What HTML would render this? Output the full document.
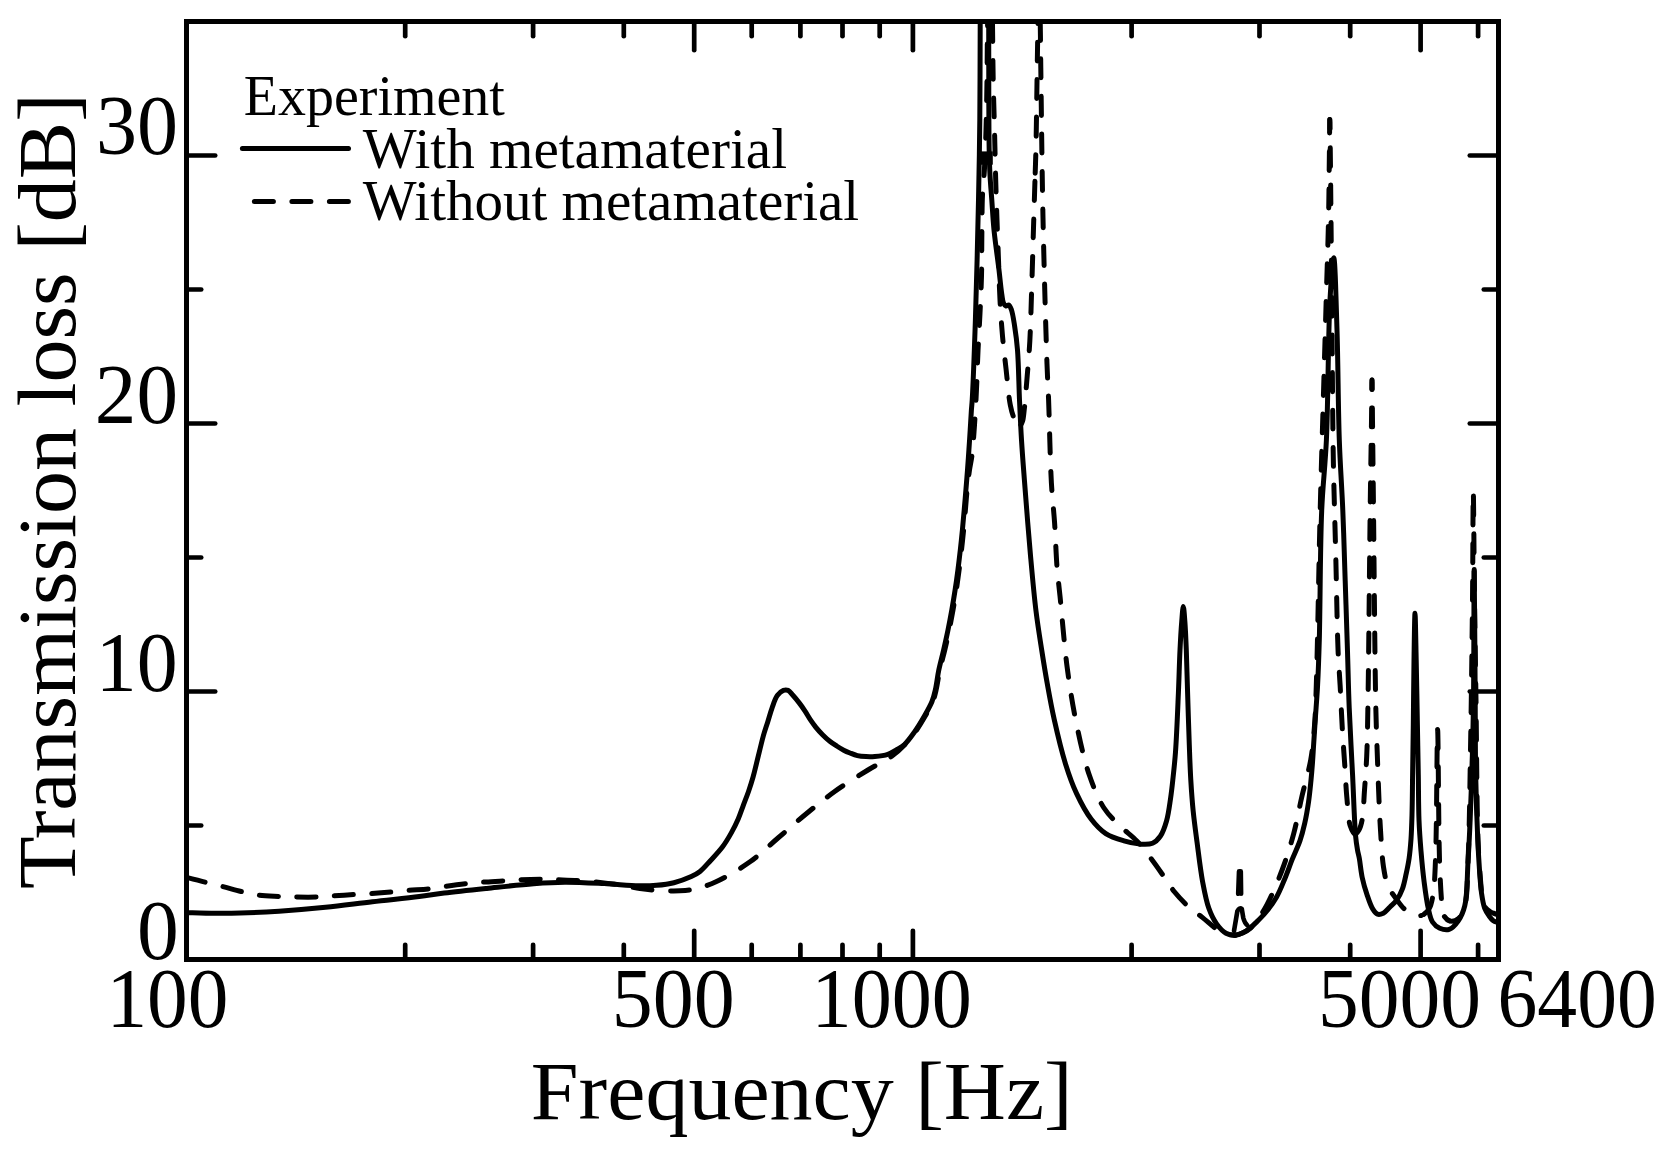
<!DOCTYPE html>
<html><head><meta charset="utf-8"><title>Transmission loss</title>
<style>
html,body{margin:0;padding:0;background:#fff;}
body{width:1665px;height:1151px;overflow:hidden;}
svg{display:block;}
text{font-family:'Liberation Serif', 'DejaVu Serif', serif;fill:#000;}
</style></head><body>
<svg width="1665" height="1151" viewBox="0 0 1665 1151">
<defs><clipPath id="pa"><rect x="189" y="24" width="1307" height="933"/></clipPath></defs>
<rect width="1665" height="1151" fill="#fff"/>
<g clip-path="url(#pa)" fill="none" stroke="#000" stroke-width="5" stroke-linejoin="round">
<path d="M180.00,912.40 C182.33,912.47 183.89,912.52 187.00,912.60 C193.22,912.77 205.93,913.22 215.00,913.30 C223.57,913.37 230.75,913.36 240.00,913.10 C251.56,912.77 265.44,912.10 279.00,911.20 C293.83,910.22 309.98,908.88 325.50,907.30 C341.11,905.71 356.77,903.50 372.40,901.70 C388.00,899.90 406.03,898.13 419.20,896.50 C428.84,895.31 434.75,894.26 444.20,893.10 C456.51,891.58 472.25,889.93 486.80,888.40 C502.05,886.79 519.64,884.74 533.70,883.70 C545.14,882.85 553.90,882.27 564.90,882.20 C577.24,882.12 591.50,882.97 604.20,883.60 C616.16,884.19 629.39,885.63 639.00,885.80 C645.79,885.92 650.61,885.81 656.40,885.30 C662.24,884.78 668.14,884.12 673.90,882.70 C679.78,881.25 686.58,878.79 691.30,876.60 C694.79,874.98 697.13,873.76 700.00,871.50 C703.50,868.74 706.84,864.57 710.40,860.70 C714.35,856.40 719.04,851.58 722.60,846.80 C725.95,842.30 728.67,837.60 731.30,832.90 C733.86,828.33 736.17,823.69 738.20,819.00 C740.19,814.42 741.67,809.73 743.40,805.10 C745.13,800.47 746.99,795.85 748.60,791.20 C750.19,786.59 751.68,781.95 753.00,777.30 C754.31,772.69 755.35,768.04 756.50,763.40 C757.65,758.77 758.75,754.13 759.90,749.50 C761.05,744.86 762.09,740.21 763.40,735.60 C764.72,730.95 766.35,726.34 767.80,721.70 C769.25,717.07 770.47,712.24 772.10,707.80 C773.66,703.56 775.07,698.63 777.30,695.60 C779.03,693.24 781.36,691.15 783.40,690.40 C784.96,689.82 786.64,689.79 788.10,690.40 C789.86,691.14 791.23,693.45 792.90,695.30 C794.90,697.52 797.21,700.32 799.20,702.90 C801.14,705.42 802.90,707.90 804.70,710.60 C806.60,713.45 808.38,716.75 810.30,719.60 C812.12,722.30 813.86,724.80 815.90,727.30 C818.02,729.90 820.43,732.54 822.80,734.90 C825.07,737.16 827.41,739.31 829.80,741.20 C832.05,742.99 834.37,744.49 836.70,746.00 C839.00,747.49 841.39,749.00 843.70,750.20 C845.82,751.30 847.80,752.13 850.00,753.00 C852.35,753.93 854.81,755.00 857.40,755.60 C860.13,756.23 863.11,756.45 866.00,756.60 C868.91,756.75 871.59,756.79 874.80,756.50 C878.72,756.15 883.93,755.60 887.80,754.30 C891.23,753.15 894.13,751.20 897.00,749.50 C899.67,747.92 902.00,746.79 904.50,744.50 C907.83,741.44 911.33,736.47 914.50,732.00 C917.85,727.27 921.06,721.93 924.00,716.80 C926.89,711.76 930.07,706.33 932.00,701.50 C933.61,697.48 934.29,694.39 935.30,690.00 C936.62,684.28 937.42,676.65 938.80,670.00 C940.19,663.31 942.07,656.67 943.60,650.00 C945.13,643.34 946.63,636.68 948.00,630.00 C949.36,623.34 950.62,616.67 951.80,610.00 C952.98,603.34 954.08,596.67 955.10,590.00 C956.12,583.34 957.03,576.67 957.90,570.00 C958.77,563.34 959.55,556.67 960.30,550.00 C961.05,543.34 961.75,536.67 962.40,530.00 C963.05,523.34 963.62,516.67 964.20,510.00 C964.78,503.33 965.35,496.67 965.90,490.00 C966.45,483.33 967.00,476.67 967.50,470.00 C968.00,463.33 968.45,456.67 968.90,450.00 C969.35,443.33 969.78,436.67 970.20,430.00 C970.62,423.33 971.01,415.52 971.40,410.00 C971.67,406.09 971.90,404.93 972.20,400.00 C973.04,386.02 974.43,348.98 975.40,319.50 C976.58,283.59 977.74,235.85 978.50,200.00 C979.12,170.67 979.52,147.88 979.80,120.00 C980.11,89.46 980.01,52.77 980.20,24.00 C980.36,0.51 979.97,-19.99 980.80,-40.00 C981.54,-57.71 983.27,-90.00 984.50,-90.00 C985.73,-90.00 987.48,-57.71 988.20,-40.00 C989.02,-19.99 988.60,1.75 988.70,24.00 C988.81,48.25 988.70,77.18 988.80,100.00 C988.89,118.69 988.92,137.17 989.20,151.00 C989.40,160.49 989.57,166.92 990.00,175.00 C990.43,183.25 991.17,191.29 991.80,200.00 C992.49,209.54 992.94,219.30 994.00,230.00 C995.23,242.39 997.64,258.64 999.00,270.00 C1000.00,278.42 1000.61,285.94 1001.50,292.00 C1002.14,296.31 1002.37,300.57 1003.50,303.00 C1004.17,304.43 1005.03,305.73 1006.00,306.00 C1006.86,306.24 1008.07,304.67 1008.90,305.00 C1010.02,305.45 1010.73,307.79 1011.50,310.00 C1012.81,313.76 1013.67,320.11 1014.60,326.00 C1015.73,333.17 1016.74,340.53 1017.50,350.00 C1018.59,363.62 1018.79,384.26 1019.50,400.00 C1020.13,414.08 1020.68,426.67 1021.50,440.00 C1022.32,453.34 1023.22,464.57 1024.40,480.00 C1026.03,501.21 1028.41,532.27 1030.50,555.50 C1032.29,575.43 1033.93,594.15 1036.00,611.00 C1037.74,625.17 1039.76,637.52 1041.70,650.00 C1043.50,661.55 1045.17,671.99 1047.20,683.30 C1049.32,695.10 1051.37,706.76 1054.20,719.40 C1057.37,733.57 1061.46,750.96 1065.60,764.20 C1069.00,775.07 1072.17,784.15 1076.50,793.40 C1080.71,802.39 1085.70,811.95 1091.10,819.00 C1095.63,824.91 1100.22,829.93 1105.80,833.60 C1111.23,837.17 1118.05,839.13 1124.00,840.90 C1129.43,842.52 1134.97,843.76 1140.00,844.10 C1144.40,844.39 1149.02,844.76 1152.50,843.30 C1155.68,841.96 1158.12,839.41 1160.30,836.30 C1163.07,832.35 1164.95,826.43 1166.60,820.70 C1168.50,814.11 1169.44,805.84 1170.50,798.80 C1171.47,792.31 1172.05,786.89 1172.80,780.00 C1173.72,771.60 1174.70,763.06 1175.50,752.00 C1176.67,735.97 1177.62,711.12 1178.40,693.00 C1179.07,677.54 1179.37,662.80 1180.00,650.00 C1180.51,639.67 1181.05,629.96 1181.70,622.00 C1182.19,616.07 1182.77,606.50 1183.30,606.50 C1183.83,606.50 1184.45,616.07 1184.90,622.00 C1185.51,629.96 1185.89,639.67 1186.30,650.00 C1186.81,662.80 1187.13,677.99 1187.60,693.00 C1188.12,709.51 1188.71,729.38 1189.30,745.00 C1189.78,757.82 1190.12,768.66 1190.80,780.00 C1191.44,790.73 1192.15,800.88 1193.20,811.30 C1194.25,821.75 1195.64,831.59 1197.10,842.60 C1198.73,854.92 1200.41,869.97 1202.60,881.70 C1204.42,891.43 1206.08,900.65 1208.80,908.20 C1210.98,914.26 1213.47,919.54 1216.60,923.90 C1219.33,927.70 1222.61,931.44 1226.00,933.30 C1228.82,934.85 1232.10,935.42 1235.00,935.30 C1237.76,935.18 1240.50,934.00 1243.00,932.80 C1245.50,931.60 1247.82,929.82 1250.00,928.10 C1252.14,926.41 1253.81,924.75 1256.00,922.60 C1258.87,919.78 1262.43,916.36 1265.60,912.50 C1269.31,907.98 1273.46,902.38 1276.60,896.90 C1279.72,891.45 1281.89,885.71 1284.40,879.70 C1287.10,873.25 1289.56,866.02 1292.20,859.40 C1294.76,853.00 1297.88,846.79 1300.00,840.60 C1301.99,834.80 1303.32,829.51 1304.70,823.40 C1306.24,816.60 1307.56,808.75 1308.60,801.60 C1309.60,794.73 1310.24,787.94 1310.90,781.30 C1311.53,774.92 1312.04,768.66 1312.50,762.50 C1312.94,756.56 1313.19,751.41 1313.60,745.00 C1314.10,737.19 1314.68,728.24 1315.30,719.00 C1316.00,708.45 1316.96,697.21 1317.60,685.10 C1318.34,671.14 1318.77,658.91 1319.30,640.00 C1320.20,607.95 1320.14,547.04 1321.70,510.40 C1322.85,483.36 1325.13,467.48 1326.40,440.00 C1328.19,401.29 1328.11,333.06 1330.00,300.00 C1331.04,281.82 1332.68,257.78 1333.75,257.80 C1335.14,257.83 1336.12,303.40 1337.00,330.00 C1338.08,362.82 1338.15,407.41 1339.30,440.00 C1340.22,466.08 1341.82,486.93 1342.80,510.40 C1343.78,533.86 1344.42,557.32 1345.20,580.80 C1345.98,604.29 1346.80,629.11 1347.50,651.30 C1348.12,671.15 1348.41,688.05 1349.20,707.70 C1350.07,729.24 1351.51,753.46 1352.60,775.40 C1353.64,796.16 1354.39,822.90 1355.60,836.00 C1356.18,842.32 1356.79,845.95 1357.50,850.00 C1358.05,853.14 1358.68,854.95 1359.30,858.30 C1360.23,863.35 1360.88,871.24 1362.20,877.40 C1363.47,883.32 1365.17,889.18 1367.00,894.60 C1368.70,899.63 1370.53,905.43 1372.70,908.90 C1374.18,911.27 1375.62,913.55 1377.50,914.20 C1379.20,914.79 1381.43,914.12 1383.30,913.20 C1385.63,912.05 1387.80,909.13 1390.00,907.00 C1392.23,904.83 1394.65,903.01 1396.60,900.30 C1398.87,897.14 1400.84,893.08 1402.40,888.90 C1404.13,884.26 1405.08,878.72 1406.20,873.60 C1407.31,868.52 1408.32,863.71 1409.10,858.30 C1409.97,852.28 1410.52,845.87 1411.00,839.10 C1411.53,831.53 1411.74,824.05 1412.00,815.00 C1412.33,803.35 1412.40,789.08 1412.60,775.00 C1412.83,759.26 1413.08,742.76 1413.30,725.00 C1413.55,704.75 1413.68,679.88 1414.00,660.00 C1414.27,643.15 1414.63,613.30 1415.00,613.30 C1415.37,613.30 1415.83,643.15 1416.20,660.00 C1416.64,679.88 1417.03,704.75 1417.40,725.00 C1417.72,742.76 1418.03,758.77 1418.30,775.00 C1418.56,790.39 1418.46,806.40 1419.00,820.00 C1419.45,831.30 1420.14,840.63 1421.00,851.00 C1421.87,861.47 1422.91,872.52 1424.20,882.50 C1425.38,891.60 1426.62,901.29 1428.30,908.50 C1429.53,913.78 1430.25,918.57 1432.50,922.00 C1434.36,924.83 1437.00,927.07 1439.80,928.30 C1442.57,929.52 1446.29,930.35 1449.20,929.40 C1452.53,928.31 1455.80,924.46 1458.30,920.90 C1461.18,916.80 1463.21,912.24 1464.80,905.70 C1467.38,895.08 1467.10,876.71 1468.00,862.20 C1468.90,847.71 1469.53,834.67 1470.20,818.70 C1471.02,799.16 1471.84,774.16 1472.40,753.50 C1472.91,734.79 1473.22,721.74 1473.50,700.00 C1473.94,666.06 1473.92,569.60 1474.20,569.60 C1474.48,569.60 1474.93,662.48 1475.20,700.00 C1475.40,728.49 1475.23,751.03 1475.70,775.20 C1476.14,797.71 1477.02,822.91 1477.80,840.40 C1478.33,852.19 1478.83,860.76 1479.50,870.00 C1480.09,878.15 1480.50,886.18 1481.50,893.00 C1482.31,898.56 1483.01,903.81 1484.60,908.00 C1485.87,911.35 1487.89,914.26 1489.50,916.50 C1490.68,918.15 1491.68,919.52 1493.00,920.50 C1494.20,921.39 1495.40,921.88 1497.00,922.30 C1499.17,922.87 1502.33,922.77 1505.00,923.00"/>
<path d="M180.00,876.00 C182.33,876.50 184.13,876.82 187.00,877.50 C191.67,878.60 199.29,880.68 205.30,882.20 C211.12,883.67 216.65,884.99 222.50,886.50 C228.61,888.08 235.08,890.02 241.20,891.50 C247.04,892.91 252.40,894.37 258.40,895.20 C264.85,896.10 272.41,896.20 278.70,896.50 C284.16,896.76 288.34,896.91 294.00,897.00 C301.04,897.11 310.66,897.25 317.70,897.00 C323.36,896.80 327.52,896.27 333.00,895.90 C339.36,895.47 347.04,895.00 353.60,894.60 C359.59,894.24 364.84,894.01 370.80,893.60 C377.27,893.16 384.56,892.58 391.00,892.00 C396.91,891.47 402.06,890.80 408.00,890.30 C414.53,889.75 422.17,889.60 428.60,888.90 C434.31,888.28 438.92,887.30 444.70,886.50 C451.41,885.57 459.85,884.45 466.50,883.70 C472.10,883.07 476.38,882.64 482.00,882.20 C488.69,881.68 497.30,881.33 504.00,880.90 C509.65,880.53 513.96,880.06 519.60,879.80 C526.28,879.49 534.83,879.27 541.50,879.30 C547.11,879.33 551.48,879.60 557.00,879.80 C563.33,880.03 570.43,880.17 577.40,880.60 C584.75,881.05 592.70,881.74 600.00,882.50 C606.88,883.22 613.35,884.00 620.00,885.00 C626.68,886.00 633.32,887.58 640.00,888.50 C646.65,889.41 653.33,890.12 660.00,890.50 C666.66,890.88 673.82,891.12 680.00,890.80 C685.37,890.52 689.65,890.22 695.00,889.00 C701.49,887.52 708.36,885.32 716.00,881.80 C726.19,877.11 739.51,869.26 750.00,861.80 C760.12,854.60 768.67,845.96 778.00,838.00 C787.34,830.03 796.58,821.73 806.00,814.00 C815.25,806.41 824.04,799.11 834.00,792.00 C844.62,784.42 857.58,776.40 868.00,770.00 C876.63,764.70 885.41,760.77 892.00,756.00 C897.21,752.23 901.08,748.58 905.00,744.50 C908.78,740.56 911.98,736.47 915.20,732.00 C918.60,727.28 921.84,721.94 924.80,716.80 C927.70,711.77 930.87,706.33 932.80,701.50 C934.41,697.48 935.07,694.39 936.10,690.00 C937.45,684.28 938.36,676.64 939.80,670.00 C941.25,663.31 943.23,656.68 944.80,650.00 C946.36,643.34 947.83,636.68 949.20,630.00 C950.56,623.34 951.82,616.67 953.00,610.00 C954.18,603.34 955.28,596.67 956.30,590.00 C957.32,583.34 958.23,576.67 959.10,570.00 C959.97,563.34 960.75,556.67 961.50,550.00 C962.25,543.34 962.95,536.67 963.60,530.00 C964.25,523.34 964.82,516.67 965.40,510.00 C965.98,503.33 966.42,496.66 967.10,490.00 C967.78,483.33 968.61,476.18 969.50,470.00 C970.27,464.63 971.27,460.88 972.00,455.00 C973.03,446.73 973.77,435.46 974.50,425.00 C975.29,413.55 975.92,401.16 976.50,389.00 C977.09,376.51 977.42,363.66 978.00,351.00 C978.58,338.33 979.41,325.58 980.00,313.00 C980.58,300.59 981.20,288.25 981.50,276.00 C981.80,263.92 981.65,252.67 981.80,240.00 C981.97,225.84 981.91,207.80 982.50,195.00 C982.94,185.44 983.86,179.31 984.40,170.00 C985.08,158.23 985.58,144.08 986.00,130.00 C986.47,114.26 986.75,96.67 987.00,80.00 C987.25,63.33 987.15,48.06 987.50,30.00 C987.91,8.62 988.26,-39.94 989.50,-40.00" stroke-dasharray="19 18.5" stroke-linecap="round" stroke-dashoffset="30.70"/>
<path d="M989.50,-40.00 C990.17,-40.03 991.46,-27.98 992.00,-20.00 C992.80,-8.21 992.31,8.45 992.50,24.00 C992.71,41.54 992.85,61.86 993.20,80.00 C993.53,97.14 994.08,113.33 994.50,130.00 C994.92,146.67 995.26,164.26 995.70,180.00 C996.10,194.08 996.53,206.67 997.00,220.00 C997.47,233.33 998.00,246.67 998.50,260.00 C999.00,273.33 999.31,287.02 1000.00,300.00 C1000.66,312.32 1001.47,324.32 1002.50,336.00 C1003.48,347.12 1004.74,357.36 1006.00,368.50 C1007.33,380.32 1008.49,395.96 1010.30,405.00 C1011.40,410.48 1012.47,414.77 1014.00,418.00 C1015.03,420.17 1016.26,421.79 1017.50,423.00 C1018.46,423.93 1019.68,425.21 1020.50,425.00" stroke-dasharray="19 18.5" stroke-linecap="round" stroke-dashoffset="12.00"/>
<path d="M1035.10,176.00 C1034.66,190.36 1034.05,210.05 1033.50,228.00 C1032.91,247.28 1032.34,268.57 1031.70,288.00 C1031.10,306.35 1030.70,325.31 1029.80,341.50 C1029.05,354.98 1027.97,366.67 1027.00,378.50 C1026.10,389.43 1025.11,402.21 1024.20,410.00 C1023.66,414.62 1023.48,418.30 1022.60,421.00 C1022.04,422.72 1021.42,424.77 1020.50,425.00" stroke-dasharray="19 18.5" stroke-linecap="round" stroke-dashoffset="32.00"/>
<path d="M1039.00,-30.00 C1038.50,-30.00 1037.99,21.85 1037.50,50.00 C1036.95,81.48 1036.43,127.49 1035.90,150.00 C1035.63,161.48 1035.41,165.85 1035.10,176.00" stroke-dasharray="19 18.5" stroke-linecap="round" stroke-dashoffset="3.00"/>
<path d="M1039.00,-30.00 C1039.40,-30.00 1039.90,3.50 1040.20,20.00 C1040.49,36.16 1040.52,47.56 1040.80,68.00 C1041.29,104.13 1041.96,168.34 1043.00,218.00 C1044.03,267.00 1045.84,331.71 1047.00,364.00 C1047.58,380.04 1048.03,385.53 1048.60,400.00 C1049.46,421.97 1050.11,460.34 1051.40,483.00 C1052.30,498.75 1053.68,509.37 1054.60,523.00 C1055.56,537.24 1055.97,553.60 1057.00,566.70 C1057.85,577.45 1058.78,584.04 1060.00,596.00 C1061.92,614.91 1064.39,646.61 1067.40,669.20 C1070.02,688.83 1072.78,706.14 1076.50,724.00 C1080.12,741.38 1084.13,760.04 1089.30,775.00 C1093.58,787.40 1098.15,798.97 1104.00,808.00 C1108.82,815.44 1114.77,820.69 1120.40,826.30 C1125.72,831.60 1131.61,835.43 1136.80,840.90 C1142.35,846.75 1147.73,854.18 1152.50,860.50 C1156.78,866.17 1160.45,871.64 1164.20,877.00 C1167.73,882.06 1170.52,887.00 1174.40,891.80 C1178.55,896.92 1183.62,902.29 1188.50,906.70 C1193.05,910.81 1197.80,913.82 1202.60,917.60 C1207.69,921.60 1213.06,927.17 1218.20,930.10 C1222.40,932.49 1227.58,934.05 1230.70,934.80 C1232.47,935.23 1233.36,935.45 1235.00,935.30" stroke-dasharray="19 18.5" stroke-linecap="round" stroke-dashoffset="23.50"/>
<path d="M1329.80,119.50 C1329.65,119.50 1329.56,139.19 1329.40,152.00 C1329.16,170.53 1329.00,196.41 1328.50,220.00 C1327.96,245.59 1327.01,271.85 1326.20,300.00 C1325.29,331.48 1324.28,365.87 1323.30,400.00 C1322.28,435.79 1321.23,469.09 1320.20,510.00 C1318.90,561.59 1317.56,647.02 1316.30,685.00 C1315.69,703.35 1315.50,712.88 1314.50,725.80 C1313.59,737.56 1312.79,748.02 1310.80,759.40 C1308.70,771.40 1304.83,783.70 1302.00,796.00 C1299.13,808.44 1297.01,821.28 1293.70,833.60 C1290.43,845.78 1286.73,857.71 1282.30,869.50 C1277.84,881.38 1271.74,895.60 1267.00,904.60 C1263.84,910.60 1261.06,914.79 1258.00,919.00 C1255.38,922.60 1252.78,926.11 1250.00,928.50 C1247.74,930.45 1245.49,931.67 1243.00,932.80 C1240.49,933.94 1237.28,935.09 1235.00,935.30" stroke-dasharray="19 18.5" stroke-linecap="round" stroke-dashoffset="5.50"/>
<path d="M1329.80,119.50 C1329.95,119.50 1330.14,139.19 1330.30,152.00 C1330.54,170.53 1330.76,196.41 1331.00,220.00 C1331.26,245.58 1331.55,271.85 1331.80,300.00 C1332.08,331.48 1332.30,370.44 1332.60,400.00 C1332.84,423.56 1332.96,440.27 1333.40,463.50 C1333.94,491.75 1335.02,526.10 1335.80,557.40 C1336.58,588.70 1337.12,627.85 1338.10,651.30 C1338.69,665.36 1339.44,672.94 1340.10,685.00 C1340.87,698.98 1341.57,716.30 1342.40,730.30 C1343.12,742.42 1343.95,752.91 1344.70,764.20 C1345.45,775.47 1345.90,787.28 1346.90,798.00 C1347.81,807.79 1348.15,819.64 1350.30,826.00 C1351.53,829.65 1353.35,833.79 1355.00,834.00" stroke-dasharray="19 18.5" stroke-linecap="round" stroke-dashoffset="9.50"/>
<path d="M1372.00,380.00 C1371.83,380.00 1371.72,405.11 1371.50,421.00 C1371.20,443.05 1370.74,467.45 1370.30,500.00 C1369.59,552.66 1368.71,661.48 1367.90,706.80 C1367.50,729.00 1367.37,741.44 1366.70,756.40 C1366.15,768.78 1365.28,779.41 1364.50,790.30 C1363.77,800.43 1363.58,812.36 1362.20,819.60 C1361.36,824.00 1360.52,827.47 1359.00,830.00 C1357.90,831.82 1356.29,834.16 1355.00,834.00" stroke-dasharray="19 18.5" stroke-linecap="round" stroke-dashoffset="9.50"/>
<path d="M1372.00,380.00 C1372.17,380.00 1372.31,405.11 1372.50,421.00 C1372.76,443.05 1373.03,467.45 1373.40,500.00 C1374.01,552.66 1374.79,660.41 1375.80,706.80 C1376.31,730.33 1376.93,743.53 1377.50,760.00 C1378.00,774.28 1378.46,787.63 1379.00,800.00 C1379.47,810.72 1379.81,819.48 1380.50,830.00 C1381.27,841.69 1381.88,856.75 1383.50,867.00 C1384.67,874.43 1385.67,880.50 1388.00,886.00 C1390.03,890.80 1393.13,894.55 1396.00,898.50 C1398.81,902.37 1401.69,906.86 1405.00,909.50 C1407.78,911.72 1411.09,912.99 1414.00,914.00 C1416.50,914.87 1418.97,916.09 1421.30,915.50" stroke-dasharray="19 18.5" stroke-linecap="round" stroke-dashoffset="9.50"/>
<path d="M1437.60,729.60 C1436.93,729.60 1436.80,830.34 1435.50,860.00 C1434.83,875.38 1434.59,886.02 1433.00,895.00 C1431.98,900.78 1431.29,905.46 1429.00,909.00 C1427.10,911.95 1424.01,914.81 1421.30,915.50" stroke-dasharray="19 18.5" stroke-linecap="round" stroke-dashoffset="19.00"/>
<path d="M1437.60,729.60 C1438.27,729.60 1438.50,829.02 1439.50,860.00 C1440.05,877.17 1440.72,890.10 1441.50,900.00 C1441.96,905.87 1441.31,910.36 1443.00,914.00 C1444.39,917.00 1447.00,920.15 1449.60,920.90" stroke-dasharray="19 18.5" stroke-linecap="round" stroke-dashoffset="0.00"/>
<path d="M1473.30,492.00 C1472.97,492.00 1472.90,561.05 1472.50,600.00 C1472.02,645.90 1471.33,703.62 1470.50,750.00 C1469.79,790.11 1469.37,833.51 1468.00,862.20 C1467.14,880.09 1467.57,895.63 1464.80,905.70 C1463.20,911.51 1461.32,916.27 1458.30,918.70 C1455.93,920.61 1452.12,921.63 1449.60,920.90" stroke-dasharray="19 18.5" stroke-linecap="round" stroke-dashoffset="23.25"/>
<path d="M1473.30,492.00 C1473.63,492.00 1474.04,564.69 1474.50,600.00 C1474.94,633.98 1475.47,663.87 1476.00,700.00 C1476.63,742.75 1476.75,807.50 1478.00,840.00 C1478.67,857.39 1479.52,868.96 1480.50,880.00 C1481.19,887.82 1481.53,894.84 1482.80,900.00 C1483.64,903.43 1484.54,906.31 1486.00,908.30 C1487.11,909.81 1488.72,910.68 1490.00,911.50 C1491.04,912.16 1491.91,912.55 1493.00,913.00 C1494.22,913.50 1495.41,914.03 1497.00,914.30 C1499.19,914.67 1502.33,914.43 1505.00,914.50" stroke-dasharray="19 18.5" stroke-linecap="round" stroke-dashoffset="33.25"/>
</g>
<g stroke="#000" stroke-width="4.6" stroke-linecap="round" stroke-linejoin="round" fill="none">
<rect x="978" y="151.4" width="14.8" height="13.3" fill="#000" stroke="none"/>
<path d="M1234,931 L1237.4,911 Q1239.6,907 1241.8,909 L1243.3,918 Q1244.8,923.5 1247.5,925.5"/>
<path d="M1238.4,893.5 L1239.2,871.5 M1240.6,871.5 L1240.9,893.5" stroke-width="5"/>
</g>
<g stroke="#000" stroke-width="4.7" stroke-linecap="round" fill="none">
<line x1="694.2" y1="959.5" x2="694.2" y2="930.8"/>
<line x1="694.2" y1="21.5" x2="694.2" y2="50.2"/>
<line x1="912.9" y1="959.5" x2="912.9" y2="930.8"/>
<line x1="912.9" y1="21.5" x2="912.9" y2="50.2"/>
<line x1="1420.6" y1="959.5" x2="1420.6" y2="930.8"/>
<line x1="1420.6" y1="21.5" x2="1420.6" y2="50.2"/>
<line x1="405.2" y1="959.5" x2="405.2" y2="944.8"/>
<line x1="405.2" y1="21.5" x2="405.2" y2="36.2"/>
<line x1="533.1" y1="959.5" x2="533.1" y2="944.8"/>
<line x1="533.1" y1="21.5" x2="533.1" y2="36.2"/>
<line x1="623.8" y1="959.5" x2="623.8" y2="944.8"/>
<line x1="623.8" y1="21.5" x2="623.8" y2="36.2"/>
<line x1="751.7" y1="959.5" x2="751.7" y2="944.8"/>
<line x1="751.7" y1="21.5" x2="751.7" y2="36.2"/>
<line x1="800.4" y1="959.5" x2="800.4" y2="944.8"/>
<line x1="800.4" y1="21.5" x2="800.4" y2="36.2"/>
<line x1="842.5" y1="959.5" x2="842.5" y2="944.8"/>
<line x1="842.5" y1="21.5" x2="842.5" y2="36.2"/>
<line x1="879.7" y1="959.5" x2="879.7" y2="944.8"/>
<line x1="879.7" y1="21.5" x2="879.7" y2="36.2"/>
<line x1="1131.6" y1="959.5" x2="1131.6" y2="944.8"/>
<line x1="1131.6" y1="21.5" x2="1131.6" y2="36.2"/>
<line x1="1259.5" y1="959.5" x2="1259.5" y2="944.8"/>
<line x1="1259.5" y1="21.5" x2="1259.5" y2="36.2"/>
<line x1="1350.2" y1="959.5" x2="1350.2" y2="944.8"/>
<line x1="1350.2" y1="21.5" x2="1350.2" y2="36.2"/>
<line x1="1478.1" y1="959.5" x2="1478.1" y2="944.8"/>
<line x1="1478.1" y1="21.5" x2="1478.1" y2="36.2"/>
<line x1="186.5" y1="825.5" x2="201.2" y2="825.5"/>
<line x1="1498.5" y1="825.5" x2="1483.8" y2="825.5"/>
<line x1="186.5" y1="691.5" x2="215.2" y2="691.5"/>
<line x1="1498.5" y1="691.5" x2="1469.8" y2="691.5"/>
<line x1="186.5" y1="557.5" x2="201.2" y2="557.5"/>
<line x1="1498.5" y1="557.5" x2="1483.8" y2="557.5"/>
<line x1="186.5" y1="423.5" x2="215.2" y2="423.5"/>
<line x1="1498.5" y1="423.5" x2="1469.8" y2="423.5"/>
<line x1="186.5" y1="289.5" x2="201.2" y2="289.5"/>
<line x1="1498.5" y1="289.5" x2="1483.8" y2="289.5"/>
<line x1="186.5" y1="155.5" x2="215.2" y2="155.5"/>
<line x1="1498.5" y1="155.5" x2="1469.8" y2="155.5"/>
</g>
<rect x="186.5" y="21.5" width="1312.0" height="938.0" fill="none" stroke="#000" stroke-width="5"/>
<g stroke="#000" stroke-width="5" stroke-linecap="round" fill="none">
<line x1="242.4" y1="148.5" x2="348.5" y2="148.5"/>
<line x1="254.4" y1="201.5" x2="348.5" y2="201.5" stroke-dasharray="19 18.5"/>
</g>
<text x="243.8" y="114.7" font-size="56" textLength="261.02" lengthAdjust="spacingAndGlyphs">Experiment</text>
<text x="362.8" y="167.6" font-size="56" textLength="424.21" lengthAdjust="spacingAndGlyphs">With metamaterial</text>
<text x="362.8" y="220" font-size="56" textLength="496.41" lengthAdjust="spacingAndGlyphs">Without metamaterial</text>
<text x="530.8" y="1119" font-size="81.5" textLength="541.94" lengthAdjust="spacingAndGlyphs">Frequency [Hz]</text>
<text transform="translate(75,986.9) rotate(-90)" x="98" y="0" font-size="81.5" textLength="795.88" lengthAdjust="spacingAndGlyphs">Transmission loss [dB]</text>
<text x="106.4" y="1026.7" font-size="84" textLength="122.01" lengthAdjust="spacingAndGlyphs">100</text>
<text x="611.8" y="1026.5" font-size="84" textLength="122.88" lengthAdjust="spacingAndGlyphs">500</text>
<text x="811.6" y="1026.5" font-size="84" textLength="160.3" lengthAdjust="spacingAndGlyphs">1000</text>
<text x="1318" y="1026.5" font-size="84" textLength="163.02" lengthAdjust="spacingAndGlyphs">5000</text>
<text x="1497.6" y="1026.5" font-size="84" textLength="159.08" lengthAdjust="spacingAndGlyphs">6400</text>
<text x="96" y="153.8" font-size="84" textLength="82.06" lengthAdjust="spacingAndGlyphs">30</text>
<text x="94.8" y="422.9" font-size="84" textLength="83.17" lengthAdjust="spacingAndGlyphs">20</text>
<text x="95.8" y="690.7" font-size="84" textLength="81.84" lengthAdjust="spacingAndGlyphs">10</text>
<text x="137" y="959" font-size="84" textLength="41.78" lengthAdjust="spacingAndGlyphs">0</text>
</svg>
</body></html>
